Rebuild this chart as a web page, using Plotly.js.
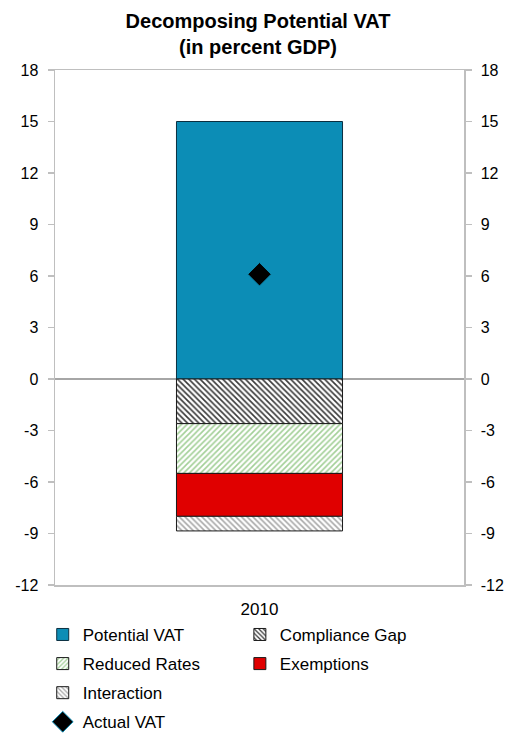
<!DOCTYPE html>
<html>
<head>
<meta charset="utf-8">
<script src="https://cdn.plot.ly/plotly-3.0.1.min.js"></script>
<style>html,body{margin:0;padding:0;background:#fff;}#chart{width:516px;height:733px;}</style>
</head>
<body>
<div id="chart"></div>
<script>
const categories = ['2010'];
const potentialVAT = [15.0];
const complianceGap = [-2.6];
const reducedRates = [-2.9];
const exemptions = [-2.5];
const interaction = [-0.85];
const actualVAT = [6.1];
const tickVals = [-12, -9, -6, -3, 0, 3, 6, 9, 12, 15, 18];
const tickText = ['-12', '-9', '-6', '-3', '0', '3', '6', '9', '12', '15', '18'];

const FONT = 'Liberation Sans, Arial, sans-serif';

const traces = [
  {type: 'bar', name: 'Potential VAT', x: categories, y: potentialVAT, legend: 'legend', legendgroup: 'a',
   marker: {color: '#0C8DB6', line: {color: '#0B2F40', width: 1}}},
  {type: 'bar', name: 'Compliance Gap', x: categories, y: complianceGap, legend: 'legend2', legendgroup: 'b',
   marker: {color: '#ffffff', line: {color: '#1a1a1a', width: 1},
            pattern: {shape: '\\', fgcolor: '#3a3a3a', bgcolor: '#ffffff', size: 4, solidity: 0.4}}},
  {type: 'bar', name: 'Reduced Rates', x: categories, y: reducedRates, legend: 'legend', legendgroup: 'c',
   marker: {color: '#ffffff', line: {color: '#1a1a1a', width: 1},
            pattern: {shape: '/', fgcolor: '#A3D098', bgcolor: '#ffffff', size: 4, solidity: 0.4}}},
  {type: 'bar', name: 'Exemptions', x: categories, y: exemptions, legend: 'legend2', legendgroup: 'd',
   marker: {color: '#E00000', line: {color: '#1a1a1a', width: 1}}},
  {type: 'bar', name: 'Interaction', x: categories, y: interaction, legend: 'legend', legendgroup: 'e',
   marker: {color: '#ffffff', line: {color: '#1a1a1a', width: 1},
            pattern: {shape: '\\', fgcolor: '#A8A8A8', bgcolor: '#ffffff', size: 4, solidity: 0.4}}},
  {type: 'scatter', mode: 'markers', name: 'Actual VAT', x: categories, y: actualVAT, legend: 'legend', legendgroup: 'f',
   marker: {symbol: 'diamond', size: 18, color: '#000000', line: {color: '#0C8DB6', width: 1}}},
  {type: 'scatter', mode: 'markers', x: categories, y: [null], yaxis: 'y2', showlegend: false,
   hoverinfo: 'skip', marker: {opacity: 0}}
];

const layout = {
  width: 516, height: 733,
  paper_bgcolor: '#ffffff', plot_bgcolor: '#ffffff',
  font: {family: FONT, color: '#000000', size: 16},
  margin: {l: 55, r: 52, t: 70, b: 148, autoexpand: false},
  title: {text: '<b>Decomposing Potential VAT</b><br><b>(in percent GDP)</b>',
          font: {family: FONT, size: 20, color: '#000'}, x: 0.5, xanchor: 'center', y: 0.962, yanchor: 'top'},
  barmode: 'relative',
  bargap: 0.594,
  showlegend: true,
  xaxis: {type: 'category', showline: true, mirror: true, linecolor: '#BFBFBF', linewidth: 1.5,
          ticks: '', tickfont: {size: 17}, ticklabelstandoff: 8, showgrid: false, zeroline: false, fixedrange: true},
  yaxis: {range: [-12, 18], tickvals: tickVals, ticktext: tickText, showgrid: false,
          zeroline: true, zerolinecolor: '#A6A6A6', zerolinewidth: 1.5,
          showline: true, linecolor: '#BFBFBF', linewidth: 1.5,
          ticks: 'outside', ticklen: 6, tickcolor: '#BFBFBF', tickwidth: 1.5, tickfont: {size: 16}, ticklabelstandoff: 6},
  yaxis2: {range: [-12, 18], tickvals: tickVals, ticktext: tickText, overlaying: 'y', side: 'right', anchor: 'x',
           showgrid: false, zeroline: false, showline: true, linecolor: '#BFBFBF', linewidth: 1.5,
           ticks: 'outside', ticklen: 6, tickcolor: '#BFBFBF', tickwidth: 1.5, tickfont: {size: 16}, ticklabelstandoff: 6},
  legend: {x: -0.03, xanchor: 'left', y: -0.062, yanchor: 'top', orientation: 'v', tracegroupgap: 4,
           font: {size: 17}, bgcolor: 'rgba(0,0,0,0)', traceorder: 'grouped'},
  legend2: {x: 0.452, xanchor: 'left', y: -0.062, yanchor: 'top', orientation: 'v', tracegroupgap: 4,
            font: {size: 17}, bgcolor: 'rgba(0,0,0,0)', traceorder: 'grouped'}
};

Plotly.newPlot('chart', traces, layout, {displayModeBar: false, staticPlot: true});
</script>
</body>
</html>
